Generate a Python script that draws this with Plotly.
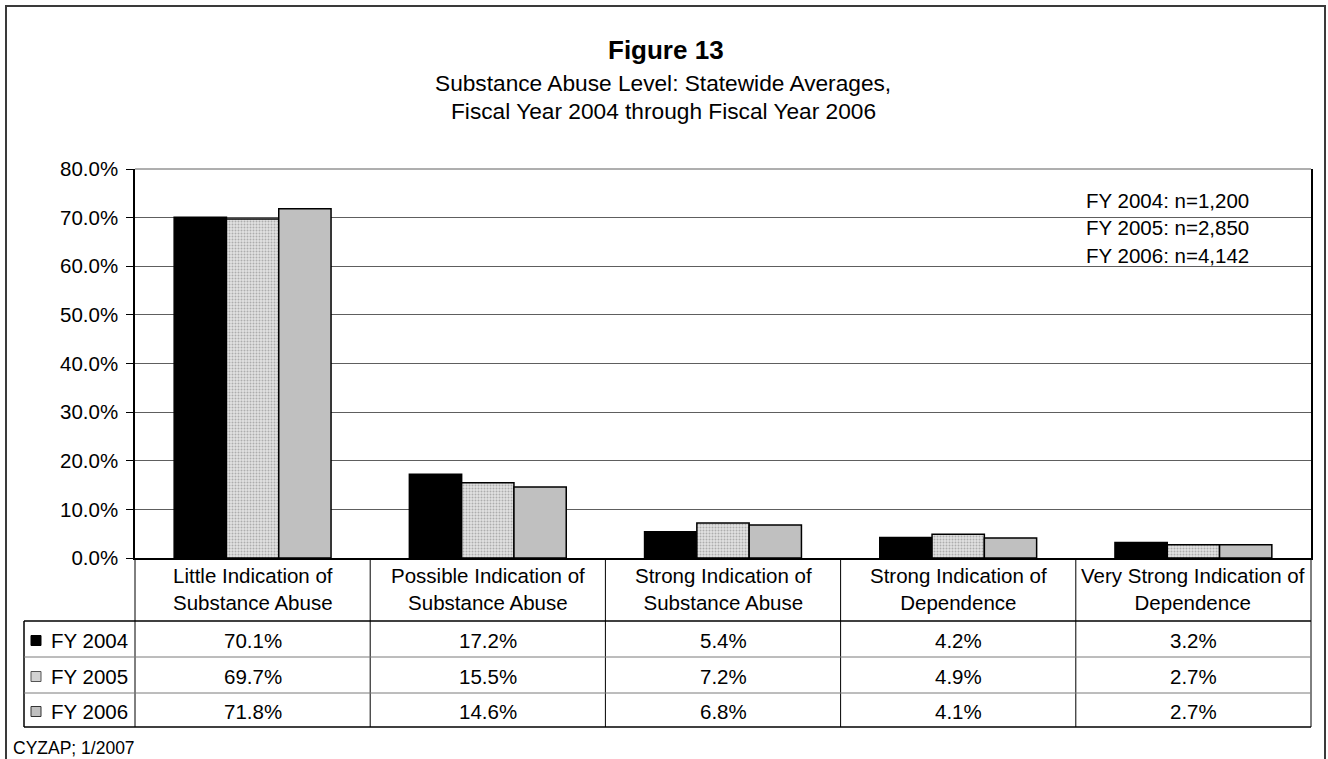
import plotly.graph_objects as go

# ---- data ----
categories = [
    "Little Indication of<br>Substance Abuse",
    "Possible Indication of<br>Substance Abuse",
    "Strong Indication of<br>Substance Abuse",
    "Strong Indication of<br>Dependence",
    "Very Strong Indication of<br>Dependence",
]
series_names = ["FY 2004", "FY 2005", "FY 2006"]
fy2004 = [70.1, 17.2, 5.4, 4.2, 3.2]
fy2005 = [69.7, 15.5, 7.2, 4.9, 2.7]
fy2006 = [71.8, 14.6, 6.8, 4.1, 2.7]
n_sizes = [1200, 2850, 4142]
y_ticks = [0, 10, 20, 30, 40, 50, 60, 70, 80]

title_text = "Figure 13"
subtitle_lines = [
    "Substance Abuse Level: Statewide Averages,",
    "Fiscal Year 2004 through Fiscal Year 2006",
]
source_note = "CYZAP; 1/2007"

# ---- page geometry (pixels) ----
W, H = 1328, 759
ML, MR, MT, MB = 135, 17, 169, 201
PW = W - ML - MR
PH = H - MT - MB
FONT = "Liberation Sans, Arial, Helvetica, sans-serif"
FS = 20.5


def px(xp):
    return (xp - ML) / PW


def py(yp):
    return (H - MB - yp) / PH


series_values = [fy2004, fy2005, fy2006]
x_idx = list(range(len(categories)))

fig = go.Figure()

fig.add_trace(go.Bar(
    x=x_idx, y=fy2004, name=series_names[0],
    marker=dict(color="#000000", line=dict(color="#000000", width=1.5)),
))
fig.add_trace(go.Bar(
    x=x_idx, y=fy2005, name=series_names[1],
    marker=dict(
        color="#dedede",
        line=dict(color="#000000", width=1.5),
        pattern=dict(shape=".", fgcolor="#777777", bgcolor="#e2e2e2",
                     size=3, solidity=0.35),
    ),
))
fig.add_trace(go.Bar(
    x=x_idx, y=fy2006, name=series_names[2],
    marker=dict(color="#c0c0c0", line=dict(color="#000000", width=1.5)),
))

shapes = []
annotations = []

# outer chart frame (open at the bottom edge of the page)
shapes.append(dict(
    type="path", xref="paper", yref="paper",
    path=f"M {px(6)} {py(770)} L {px(6)} {py(6)} L {px(1325)} {py(6)} L {px(1325)} {py(770)}",
    line=dict(color="#3a3a3a", width=2),
))

# top edge of the plot area
shapes.append(dict(type="line", xref="paper", yref="paper",
                   x0=0, x1=1, y0=1, y1=1,
                   line=dict(color="#5e5e5e", width=1)))

# data table below the plot
y_base = H - MB
row_edges = [621, 657, 693, 727]
table_left = 24
table_right = ML + PW

# vertical dividers between category columns
for k in range(len(categories) + 1):
    xv = ML + PW * k / len(categories)
    shapes.append(dict(type="line", xref="paper", yref="paper",
                       x0=px(xv), x1=px(xv), y0=py(y_base), y1=py(row_edges[-1]),
                       line=dict(color="#000000", width=1)))
# left edge of the legend column
shapes.append(dict(type="line", xref="paper", yref="paper",
                   x0=px(table_left), x1=px(table_left),
                   y0=py(row_edges[0]), y1=py(row_edges[-1]),
                   line=dict(color="#000000", width=1.5)))
# horizontal rules
for i, yr in enumerate(row_edges):
    outer = i in (0, len(row_edges) - 1)
    shapes.append(dict(type="line", xref="paper", yref="paper",
                       x0=px(table_left), x1=px(table_right), y0=py(yr), y1=py(yr),
                       line=dict(color="#000000" if outer else "#7a7a7a",
                                 width=1.5 if outer else 1)))

# category labels
for i, cat in enumerate(categories):
    annotations.append(dict(
        x=i, xref="x", y=py(589), yref="paper", text=cat, showarrow=False,
        xanchor="center", yanchor="middle",
        font=dict(family=FONT, size=FS, color="#000000"),
    ))

# legend keys and values in the table rows
swatch_fill = ["#000000", "#d2d2d2", "#c0c0c0"]
swatch_line = ["#000000", "#555555", "#333333"]
for r, (name, vals) in enumerate(zip(series_names, series_values)):
    yc = (row_edges[r] + row_edges[r + 1]) / 2 + 1.5
    shapes.append(dict(type="rect", xref="paper", yref="paper",
                       x0=px(31), x1=px(41), y0=py(yc - 5), y1=py(yc + 5),
                       fillcolor=swatch_fill[r],
                       line=dict(color=swatch_line[r], width=1)))
    annotations.append(dict(
        x=px(49), xref="paper", y=py(yc), yref="paper", text=name,
        showarrow=False, xanchor="left", yanchor="middle",
        font=dict(family=FONT, size=FS, color="#000000"),
    ))
    for i, v in enumerate(vals):
        annotations.append(dict(
            x=i, xref="x", y=py(yc), yref="paper", text=f"{v:.1f}%",
            showarrow=False, xanchor="center", yanchor="middle",
            font=dict(family=FONT, size=FS, color="#000000"),
        ))

# sample sizes inside the plot
for r, (name, n) in enumerate(zip(series_names, n_sizes)):
    annotations.append(dict(
        x=px(1084), xref="paper", y=py(200 + 27.5 * r), yref="paper",
        text=f"{name}: n={n:,}", showarrow=False,
        xanchor="left", yanchor="middle",
        font=dict(family=FONT, size=FS, color="#000000"),
    ))

# titles
annotations.append(dict(
    x=px(666), xref="paper", y=py(50), yref="paper",
    text=f"<b>{title_text}</b>", showarrow=False,
    xanchor="center", yanchor="middle",
    font=dict(family=FONT, size=26, color="#000000"),
))
for j, line in enumerate(subtitle_lines):
    annotations.append(dict(
        x=px(663), xref="paper", y=py(83 + 28 * j), yref="paper",
        text=line, showarrow=False, xanchor="center", yanchor="middle",
        font=dict(family=FONT, size=22.7, color="#000000"),
    ))

# source note
annotations.append(dict(
    x=px(11), xref="paper", y=py(748), yref="paper",
    text=source_note, showarrow=False, xanchor="left", yanchor="middle",
    font=dict(family=FONT, size=17.5, color="#000000"),
))

fig.update_layout(
    width=W, height=H, autosize=False,
    margin=dict(l=ML, r=MR, t=MT, b=MB, pad=0),
    paper_bgcolor="#ffffff", plot_bgcolor="#ffffff",
    barmode="group", bargap=0.333, bargroupgap=0,
    showlegend=False,
    font=dict(family=FONT, size=FS, color="#000000"),
    shapes=shapes, annotations=annotations,
)
fig.update_xaxes(
    range=[-0.5, len(categories) - 0.5], showticklabels=False,
    showgrid=False, zeroline=False, ticks="",
    showline=True, linecolor="#000000", linewidth=1.5,
)
fig.update_yaxes(
    range=[0, 80], tickvals=y_ticks, ticktext=[f"{t:.1f}%" for t in y_ticks],
    showgrid=True, gridcolor="#5e5e5e", gridwidth=1,
    zeroline=False, showline=True, linecolor="#000000", linewidth=1.5,
    mirror=True, ticks="outside", ticklen=7, tickcolor="#000000", tickwidth=1,
    ticklabelstandoff=4,
    tickfont=dict(family=FONT, size=FS, color="#000000"),
)

fig.write_html("out.html")
